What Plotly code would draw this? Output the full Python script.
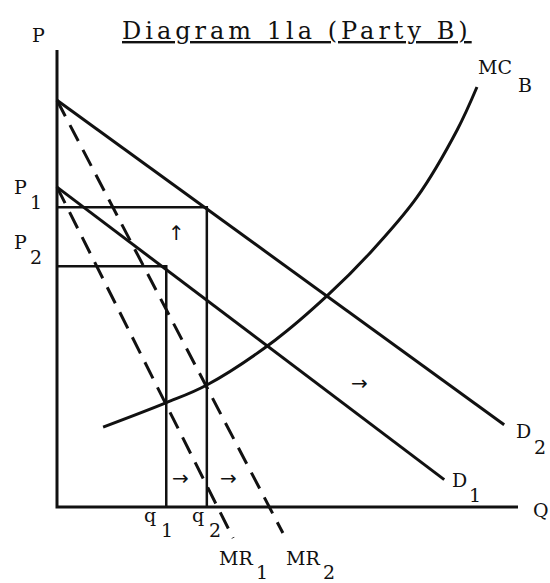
import plotly.graph_objects as go

# ---- data (economic units: Q on x, P on y) ----
axis_q = [0, 0, 10.0]
axis_p = [10.0, 0, 0]

d1_q = [0, 8.4]
d1_p = [7.0, 0.6]
d2_q = [0, 9.7]
d2_p = [8.9, 1.8]

mr1_q = [0, 3.82]
mr1_p = [7.0, -0.68]
mr2_q = [0, 4.9]
mr2_p = [8.9, -0.57]

mc_q = [1.0, 2.36, 3.25, 4.73, 5.88, 6.79, 7.81, 8.68, 9.11]
mc_p = [1.75, 2.28, 2.67, 3.65, 4.64, 5.56, 6.78, 8.25, 9.19]

q1, q2 = 2.37, 3.25
p1, p2 = 6.56, 5.27

title_text = "<u><span style='letter-spacing:4px'>Diagram 1la (Party B)</span></u>"

# labels: (text, x, y)
main_labels = [
    ("P", -0.41, 10.33),
    ("P", -0.80, 7.00),
    ("P", -0.80, 5.80),
    ("q", 2.02, -0.18),
    ("q", 3.06, -0.18),
    ("MR", 3.88, -1.12),
    ("MR", 5.34, -1.12),
    ("D", 10.13, 1.66),
    ("D", 8.74, 0.59),
    ("Q", 10.50, -0.07),
    ("MC", 9.50, 9.63),
]
sub_labels = [
    ("1", -0.46, 6.67),
    ("2", -0.46, 5.48),
    ("1", 2.39, -0.50),
    ("2", 3.43, -0.50),
    ("1", 4.45, -1.42),
    ("2", 5.90, -1.42),
    ("2", 10.48, 1.31),
    ("1", 9.07, 0.26),
    ("B", 10.15, 9.23),
]
arrows = [
    ("↑", 2.60, 6.00),
    ("→", 2.67, 0.63),
    ("→", 3.71, 0.63),
    ("→", 6.57, 2.71),
]

BLACK = "#111111"
FONT = "DejaVu Serif"

fig = go.Figure()

def line(xs, ys, width=3, dash=None):
    fig.add_trace(go.Scatter(x=xs, y=ys, mode="lines",
                             line=dict(color=BLACK, width=width, dash=dash),
                             hoverinfo="skip", showlegend=False))

# axes
line(axis_q, axis_p, width=3)
# demand curves
line(d1_q, d1_p, width=3)
line(d2_q, d2_p, width=3)
# marginal revenue (dashed)
line(mr1_q, mr1_p, width=3, dash="18px,10px")
line(mr2_q, mr2_p, width=3, dash="18px,10px")
# marginal cost
fig.add_trace(go.Scatter(x=mc_q, y=mc_p, mode="lines",
                         line=dict(color=BLACK, width=3, shape="spline", smoothing=1.0),
                         hoverinfo="skip", showlegend=False))
# price / quantity boxes
line([0, q2, q2], [p1, p1, 0], width=2.5)
line([0, q1, q1], [p2, p2, 0], width=2.5)

ann = []
ann.append(dict(text=title_text, x=5.21, y=10.42, showarrow=False,
                font=dict(family=FONT, size=24, color=BLACK)))
for t, x, y in main_labels:
    ann.append(dict(text=t, x=x, y=y, showarrow=False,
                    font=dict(family=FONT, size=19, color=BLACK)))
for t, x, y in sub_labels:
    ann.append(dict(text=t, x=x, y=y, showarrow=False,
                    font=dict(family=FONT, size=19, color=BLACK)))
for t, x, y in arrows:
    ann.append(dict(text=t, x=x, y=y, showarrow=False,
                    font=dict(family="DejaVu Sans", size=20, color=BLACK)))

fig.update_layout(
    width=550, height=583,
    margin=dict(l=0, r=0, t=0, b=0),
    paper_bgcolor="white", plot_bgcolor="white",
    xaxis=dict(range=[-57 / 46.1, 493 / 46.1], visible=False, fixedrange=True),
    yaxis=dict(range=[-76 / 45.7, 507 / 45.7], visible=False, fixedrange=True),
    annotations=ann,
    showlegend=False,
)

fig.write_html("out.html", config={"displayModeBar": False},
               post_script="document.body.style.margin='0';")
